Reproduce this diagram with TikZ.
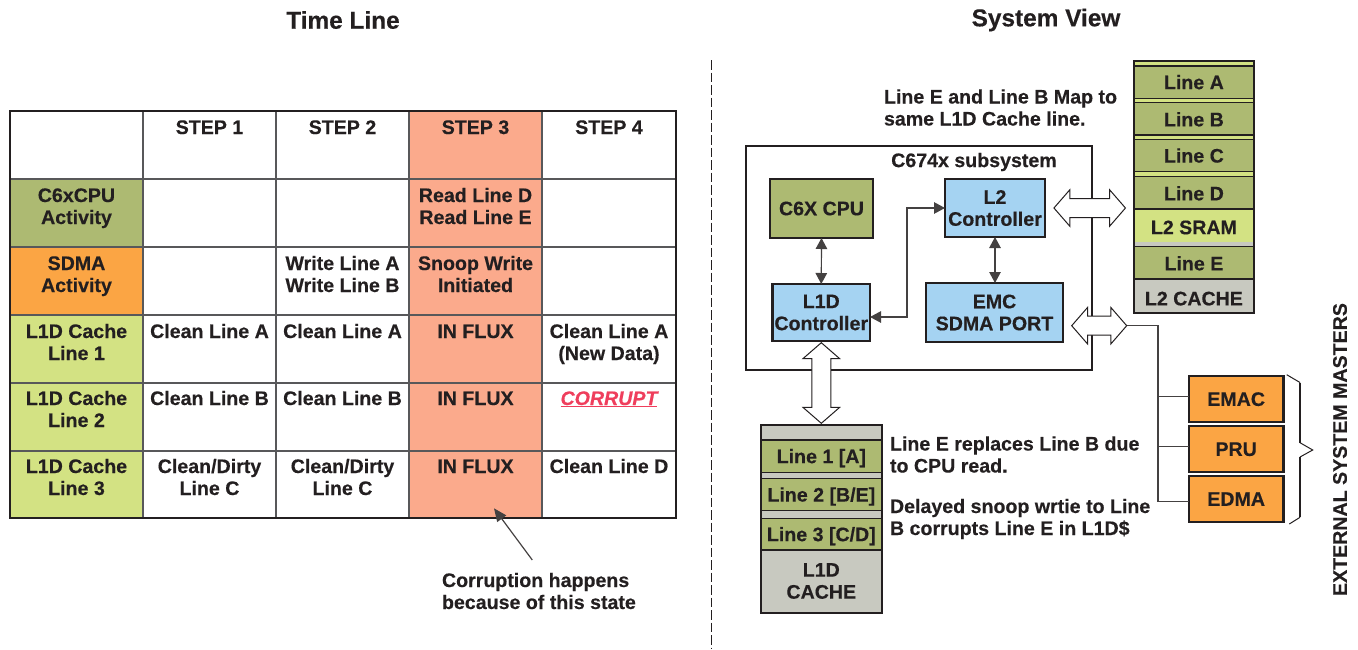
\documentclass[tikz,border=0pt]{standalone}
\usepackage{fontspec}
\setmainfont{Liberation Sans}[BoldFeatures={FakeBold=0.35},BoldItalicFeatures={FakeBold=0.35}]
\usetikzlibrary{arrows.meta,shapes.arrows}
\definecolor{ink}{HTML}{231F20}
\definecolor{olive}{HTML}{ADBA72}
\definecolor{sdmaorange}{HTML}{FBA544}
\definecolor{salmon}{HTML}{FBAA8C}
\definecolor{lime}{HTML}{D3E283}
\definecolor{skyb}{HTML}{A5D3F2}
\definecolor{cachegrey}{HTML}{C8C9C0}
\definecolor{cellline}{HTML}{58585A}
\definecolor{alert}{HTML}{EF3E5C}
\tikzset{
  every node/.style={inner sep=0pt,outer sep=0pt,text=ink,font=\fontsize{19.6}{22}\selectfont\bfseries},
  cellbox/.style={draw=cellline,line width=1.3pt,anchor=north west},
  celltext/.style={anchor=base,align=center},
  plain/.style={anchor=base west,align=left},
  title/.style={font=\fontsize{24.4}{28}\selectfont\bfseries},
  block/.style={draw=ink,line width=2.4pt,align=center},
  row/.style={draw=ink,line width=1.2pt,fill=olive,anchor=north west,minimum width=118.6pt,text height=14.1pt,text depth=0pt},
  thin/.style={draw=ink!85,line width=1.2pt},
  tips/.style={thin,{Triangle[length=11pt,width=11.5pt]}-{Triangle[length=11pt,width=11.5pt]}},
  fat/.style={double arrow,draw=ink,line width=1pt,fill=white,inner ysep=9pt,inner xsep=0pt,double arrow head extend=8.8pt,double arrow tip angle=98,minimum width=35.5pt},
}
\newcommand{\cellx}[6]{\node[cellbox,fill=#6,minimum width=#4pt,minimum height=#5pt] (#1) at (#2,#3) {};}
\begin{document}
\begin{tikzpicture}[x=1pt,y=-1pt]
\useasboundingbox (0,0) rectangle (1358,649);
\node[title] (tTime) at (343,20) {Time Line};
\node[title] (tSys) at (1046,20) {System View};
% table cells
\foreach \r/\yy/\hh in {0/111/68,1/179/68,2/247/68,3/315/68,4/383/68,5/451/67}{
  \foreach \c/\xx/\ww in {0/10/133,1/143/133,2/276/133,3/409/133,4/542/134}{
    \cellx{c\c\r}{\xx}{\yy}{\ww}{\hh}{white}
  }
}
\cellx{h3}{409}{111}{133}{68}{salmon}
\cellx{a0}{10}{179}{133}{68}{olive}
\cellx{a3}{409}{179}{133}{68}{salmon}
\cellx{b0}{10}{247}{133}{68}{sdmaorange}
\cellx{b3}{409}{247}{133}{68}{salmon}
\cellx{d0}{10}{315}{133}{68}{lime}
\cellx{d3}{409}{315}{133}{68}{salmon}
\cellx{e0}{10}{383}{133}{68}{lime}
\cellx{e3}{409}{383}{133}{68}{salmon}
\cellx{f0}{10}{451}{133}{67}{lime}
\cellx{f3}{409}{451}{133}{67}{salmon}
\node[draw=ink,line width=2.4pt,minimum width=666pt,minimum height=407pt,anchor=north west] (tbl) at (10,111) {};
% header
\node[celltext] (s1) at (209.5,134) {STEP 1};
\node[celltext] (s2) at (342.5,134) {STEP 2};
\node[celltext] (s3) at (475.5,134) {STEP 3};
\node[celltext] (s4) at (609,134) {STEP 4};
% rows
\node[celltext] (t10) at (76.5,224) {C6xCPU\\Activity};
\node[celltext] (t13) at (475.5,224) {Read Line D\\Read Line E};
\node[celltext] (t20) at (76.5,292) {SDMA\\Activity};
\node[celltext] (t22) at (342.5,292) {Write Line A\\Write Line B};
\node[celltext] (t23) at (475.5,292) {Snoop Write\\Initiated};
\node[celltext] (t30) at (76.5,360) {L1D Cache\\Line 1};
\node[celltext] (t31) at (209.5,338) {Clean Line A};
\node[celltext] (t32) at (342.5,338) {Clean Line A};
\node[celltext] (t33) at (475.5,338) {IN FLUX};
\node[celltext] (t34) at (609,360) {Clean Line A\\(New Data)};
\node[celltext] (t40) at (76.5,427) {L1D Cache\\Line 2};
\node[celltext] (t41) at (209.5,405) {Clean Line B};
\node[celltext] (t42) at (342.5,405) {Clean Line B};
\node[celltext] (t43) at (475.5,405) {IN FLUX};
\node[celltext,text=alert] (t44) at (609,405) {\textit{\underline{CORRUPT}}};
\node[celltext] (t50) at (76.5,495) {L1D Cache\\Line 3};
\node[celltext] (t51) at (209.5,495) {Clean/Dirty\\Line C};
\node[celltext] (t52) at (342.5,495) {Clean/Dirty\\Line C};
\node[celltext] (t53) at (475.5,473) {IN FLUX};
\node[celltext] (t54) at (609,473) {Clean Line D};
% annotation
\coordinate (tipA) at (494,508.3);
\coordinate (tailA) at (532.3,560);
\draw[thin,-{Triangle[length=13pt,width=11pt]}] (tailA) -- (tipA);
\node[plain] (note) at (442,609) {Corruption happens\\because of this state};
% divider
\coordinate (divT) at (711.5,60);
\coordinate (divB) at (711.5,649);
\draw[ink,line width=1.2pt,dash pattern=on 9.5pt off 3pt] (divT) -- (divB);
% L2 stack
\node[draw=ink,line width=2.2pt,fill=lime,anchor=north west,minimum width=120.3pt,minimum height=251.7pt] (l2s) at (1133.7,61) {};
\node[row,minimum height=32.3pt] (lA) at (1134.6,66) {Line A};
\node[row,minimum height=32.3pt,text height=15pt] (lB) at (1134.6,102.7) {Line B};
\node[row,minimum height=32.4pt] (lC) at (1134.6,139.3) {Line C};
\node[row,minimum height=32.3pt,text height=15pt] (lD) at (1134.6,176.7) {Line D};
\node[row,fill=lime,minimum height=33.3pt,text height=17.1pt] (lS) at (1134.6,209) {L2 SRAM};
\node[fill=cachegrey,anchor=north west,minimum width=118.6pt,minimum height=4.4pt] (lG) at (1134.6,242.3) {};
\node[row,minimum height=32.3pt,text height=15pt] (lE) at (1134.6,246.7) {Line E};
\node[row,fill=cachegrey,minimum height=33.7pt,text height=19pt] (lCa) at (1134.6,279) {L2 CACHE};
\draw[ink,line width=2.2pt] (l2s.north west) rectangle (l2s.south east);
% note
\node[plain] (n1) at (884,125.5) {Line E and Line B Map to\\same L1D Cache line.};
% subsystem
\node[draw=ink,line width=2pt,fill=white,anchor=north west,minimum width=346.5pt,minimum height=224pt] (sub) at (745.5,146) {};
\node (subl) at (974,162) {C674x subsystem};
\node[block,fill=olive,anchor=north west,minimum width=103pt,minimum height=59pt] (cpu) at (770,179) {C6X CPU};
\node[block,fill=skyb,anchor=north west,minimum width=100pt,minimum height=58pt] (l2c) at (945,179) {L2\\Controller};
\node[block,fill=skyb,anchor=north west,minimum width=97.5pt,minimum height=57pt] (l1c) at (772.5,284) {L1D\\Controller};
\node[block,fill=skyb,anchor=north west,minimum width=137pt,minimum height=59pt] (emc) at (926,283) {EMC\\SDMA PORT};
\draw[tips] (cpu.south) -- (l1c.north);
\draw[tips] (l2c.south) -- (l2c.south |- emc.north);
\coordinate (jog) at (907,317);
\draw[tips] (l1c.east |- jog) -- (jog) -- (907,208) -- (l2c.west |- 0,208);
% L1D cache
\node[draw=ink,line width=2.2pt,fill=cachegrey,anchor=north west,minimum width=120.7pt,minimum height=188.3pt] (l1s) at (761,425) {};
\node[row,minimum width=119.7pt,minimum height=32.3pt] (r1) at (761.5,440) {Line 1 [A]};
\node[row,minimum width=119.7pt,minimum height=32.4pt] (r2) at (761.5,478.3) {Line 2 [B/E]};
\node[row,minimum width=119.7pt,minimum height=31.7pt] (r3) at (761.5,518.3) {Line 3 [C/D]};
\draw[ink,line width=2.2pt] (l1s.north west) rectangle (l1s.south east);
\node[align=center] (r4) at (821.3,581) {L1D\\CACHE};
% block arrows
\node[fat,minimum height=71.5pt] (a1) at (1089.7,208) {};
\node[fat,minimum height=55pt] (a2) at (1099.2,325.7) {};
\node[fat,rotate=90,minimum height=80.6pt] (a3) at (821.3,383) {};
% text
\node[plain] (n2) at (890,472.5) {Line E replaces Line B due\\to CPU read.};
\node[plain] (n3) at (890,535) {Delayed snoop wrtie to Line\\B corrupts Line E in L1D\$};
% masters
\node[block,fill=sdmaorange,anchor=north west,minimum width=94.3pt,minimum height=45.7pt,text height=14.1pt,text depth=0pt] (emac) at (1189,376) {EMAC};
\node[block,fill=sdmaorange,anchor=north west,minimum width=94.3pt,minimum height=45.7pt,text height=14.1pt,text depth=0pt] (pru) at (1189,426) {PRU};
\node[block,fill=sdmaorange,anchor=north west,minimum width=94.3pt,minimum height=46pt,text height=14.1pt,text depth=0pt] (edma) at (1189,475.7) {EDMA};
\coordinate (busT) at (1158,325.7);
\coordinate (jE) at (1158,396.7);
\coordinate (jP) at (1158,446.7);
\coordinate (jD) at (1158,501.7);
\draw[thin] (a2.east) -- (busT) -- (jD) -- (jD -| edma.west);
\draw[thin] (jE) -- (jE -| emac.west);
\draw[thin] (jP) -- (jP -| pru.west);
% brace
\draw[ink,line width=1pt] (1286.7,374.7) -- (1300,382.5);
\draw[ink,line width=1.8pt] (1300,382.5) -- (1300,442.7);
\draw[ink,line width=1pt] (1300,442.7) -- (1312.7,450) -- (1300,457);
\draw[ink,line width=1.8pt] (1300,457) -- (1300,517.3);
\draw[ink,line width=1pt] (1300,517.3) -- (1289.3,524);
\node[rotate=90] (ext) at (1340,449.5) {EXTERNAL SYSTEM MASTERS};
\end{tikzpicture}
\end{document}
